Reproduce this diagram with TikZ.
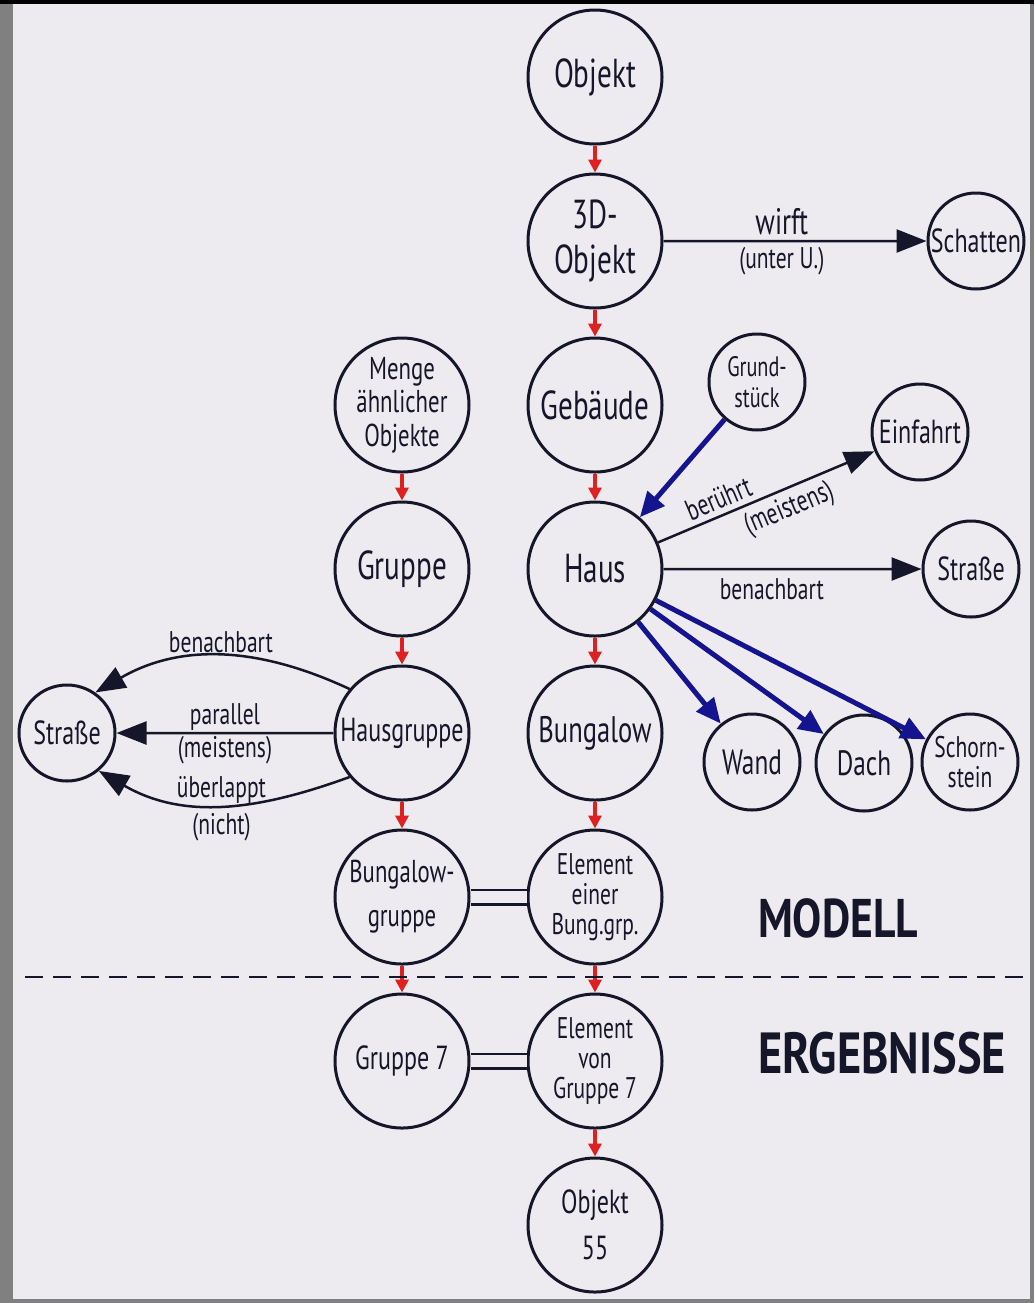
\documentclass[tikz,border=0pt]{standalone}
\usepackage{fontspec}
\setmainfont{PT Sans}[FakeStretch=0.72]
\newfontfamily\headfont{PT Sans}[FakeStretch=0.8]
\usetikzlibrary{positioning, arrows.meta}

\definecolor{papier}{HTML}{EEEBF0}
\definecolor{rand}{HTML}{808080}
\definecolor{tinte}{HTML}{16162A}
\definecolor{rot}{HTML}{DD2020}
\definecolor{blau}{HTML}{14148F}

\begin{document}
\begin{tikzpicture}[
      x=0.2mm, y=-0.2mm,
      text=tinte,
      kreis/.style={circle, draw=tinte, line width=0.6mm, inner sep=0pt,
                    minimum size=26.8mm, align=center,
                    font=\fontsize{23}{26}\selectfont},
      kreisk/.style={kreis, minimum size=19.2mm, font=\fontsize{19}{19}\selectfont},
      lbl/.style={font=\fontsize{17}{19}\selectfont, inner sep=1pt},
      folge/.style={-{Triangle[length=2.6mm, width=2.6mm]}, draw=rot, line width=0.8mm},
      bez/.style={-{Triangle[length=6mm, width=4.6mm]}, draw=tinte, line width=0.5mm},
      teil/.style={-{Triangle[length=5mm, width=4.4mm]}, draw=blau, line width=1mm},
      gleich/.style={draw=tinte, double=papier, double distance=2.4mm, line width=0.5mm},
      trenn/.style={draw=tinte, line width=0.55mm, dash pattern=on 3.6mm off 2mm},
      kopf/.style={font=\headfont\bfseries\fontsize{31}{34}\selectfont},
      node distance=5.4mm
    ]
    \useasboundingbox (0,0) rectangle (1034,1303);
    % Blatt mit Scannerrand
    \fill[rand] (0,0) rectangle (1034,1303);
    \fill[papier] (13,4) rectangle (1030,1299);
    \fill[black] (0,0) rectangle (1034,4);

    % Hauptkette
    \node[kreis] (obj) at (595,77) {Objekt};
    \node[kreis, below=of obj] (obj3d) {3D-\\Objekt};
    \node[kreis, below=of obj3d] (geb) {Gebäude};
    \node[kreis, below=of geb] (haus) {Haus};
    \node[kreis, below=of haus, font=\fontsize{21}{24}\selectfont] (bung) {Bungalow};
    \node[kreis, below=of bung, font=\fontsize{17}{17}\selectfont] (elb) {Element\\einer\\Bung.grp.};
    \node[kreis, below=of elb, font=\fontsize{17}{17}\selectfont] (elg) {Element\\von\\Gruppe 7};
    \node[kreis, below=of elg, font=\fontsize{19}{26}\selectfont] (obj55) {Objekt\\55};

    % Gruppenkette
    \node[kreis, left=11.2mm of geb, font=\fontsize{18}{19}\selectfont] (menge) {Menge\\ähnlicher\\Objekte};
    \node[kreis, below=of menge] (grp) {Gruppe};
    \node[kreis, below=of grp, font=\fontsize{19}{22}\selectfont] (hgr) {Hausgruppe};
    \node[kreis, below=of hgr, font=\fontsize{18}{25}\selectfont] (bgr) {Bungalow-\\gruppe};
    \node[kreis, below=of bgr, font=\fontsize{19}{22}\selectfont] (gr7) {Gruppe 7};

    % kleine Kreise
    \node[kreisk] (schatten) at (976,241) {Schatten};
    \node[kreisk, font=\fontsize{16}{17.5}\selectfont] (grund) at (757,382) {Grund-\\stück};
    \node[kreisk] (einf) at (920,432) {Einfahrt};
    \node[kreisk] (strR) at (971,569) {Straße};
    \node[kreisk, font=\fontsize{20}{20}\selectfont] (wand) at (752,762) {Wand};
    \node[kreisk, font=\fontsize{20}{20}\selectfont] (dach) at (864,763) {Dach};
    \node[kreisk, font=\fontsize{17}{17}\selectfont] (schorn) at (970,762) {Schorn-\\stein};
    \node[kreisk] (strL) at (67,733) {Straße};

    % Spezialisierung
    \draw[folge] (obj) -- (obj3d);
    \draw[folge] (obj3d) -- (geb);
    \draw[folge] (geb) -- (haus);
    \draw[folge] (haus) -- (bung);
    \draw[folge] (bung) -- (elb);
    \draw[folge] (elb) -- (elg);
    \draw[folge] (elg) -- (obj55);
    \draw[folge] (menge) -- (grp);
    \draw[folge] (grp) -- (hgr);
    \draw[folge] (hgr) -- (bgr);
    \draw[folge] (bgr) -- (gr7);

    % Beziehungen
    \draw[bez] (obj3d) -- node[lbl, above=2pt, pos=0.45, font=\fontsize{21}{22}\selectfont]{wirft}
                          node[lbl, below=2pt, pos=0.45]{(unter U.)} (schatten);
    \draw[bez] (haus) -- node[lbl, sloped, above=2pt, pos=0.31]{berührt}
                         node[lbl, sloped, below=2pt, pos=0.57]{(meistens)} (einf);
    \draw[bez] (haus) -- node[lbl, below=4pt, pos=0.42]{benachbart} (strR);
    \draw[bez] (hgr.140) to[out=155, in=30] node[lbl, above, pos=0.5]{benachbart} (strL.55);
    \draw[bez] (hgr) -- node[lbl, above]{parallel} node[lbl, below]{(meistens)} (strL);
    \draw[bez] (hgr.220) to[out=200, in=-30] node[lbl, above, pos=0.5, inner sep=0pt]{überlappt}
                                              node[lbl, below=3pt, pos=0.5]{(nicht)} (strL.-50);

    % Bestandteile
    \draw[teil] (grund) -- (haus);
    \draw[teil] (haus) -- (wand);
    \draw[teil] (haus) -- (dach);
    \draw[teil] (haus) -- (schorn);

    % Gleichsetzung
    \draw[gleich] (bgr) -- (elb);
    \draw[gleich] (gr7) -- (elg);

    % Modell / Ergebnisse
    \draw[trenn] (25,977) -- (1025,977);
    \node[kopf] (modell) at (838,918) {MODELL};
    \node[kopf, font=\headfont\bfseries\fontsize{33}{36}\selectfont] (ergeb) at (882,1053) {ERGEBNISSE};
  \end{tikzpicture}
\end{document}
